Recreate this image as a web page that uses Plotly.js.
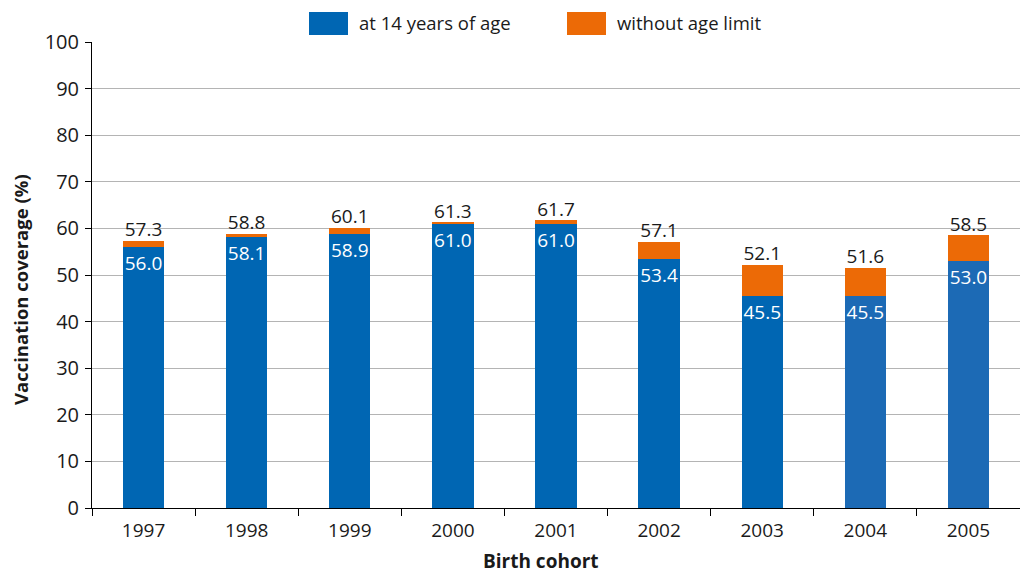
<!DOCTYPE html>
<html>
<head>
<meta charset="utf-8">
<script src="https://cdn.plot.ly/plotly-3.0.1.min.js"></script>
<style>html,body{margin:0;padding:0;background:#fff;}#chart{width:1020px;height:576px;}</style>
</head>
<body>
<div id="chart"></div>
<script>
const cohorts = ['1997','1998','1999','2000','2001','2002','2003','2004','2005'];
const at14 = [56.0, 58.1, 58.9, 61.0, 61.0, 53.4, 45.5, 45.5, 53.0];
const withoutLimit = [57.3, 58.8, 60.1, 61.3, 61.7, 57.1, 52.1, 51.6, 58.5];
const extra = withoutLimit.map((v, i) => +(v - at14[i]).toFixed(1));
const blueColors = ['#0066b3','#0066b3','#0066b3','#0066b3','#0066b3','#0066b3','#0066b3','#1c6ab5','#1c6ab5'];
const orange = '#ec6a06';
const font = 'Open Sans, Noto Sans, sans-serif';
const txt = '#1a1a1a';

const traces = [
  {
    type: 'bar', x: cohorts, y: at14, name: 'at 14 years of age',
    marker: {color: blueColors},
    text: at14.map(v => v.toFixed(1)), texttemplate: '%{text}',
    textposition: 'inside', insidetextanchor: 'end', textangle: 0,
    constraintext: 'none', insidetextfont: {color: '#ffffff', size: 19, family: font},
    hoverinfo: 'skip'
  },
  {
    type: 'bar', x: cohorts, y: extra, name: 'without age limit',
    marker: {color: orange}, hoverinfo: 'skip'
  },
  {
    type: 'scatter', mode: 'text', x: cohorts, y: withoutLimit,
    text: withoutLimit.map(v => v.toFixed(1)), textposition: 'top center',
    textfont: {color: txt, size: 19, family: font},
    showlegend: false, hoverinfo: 'skip', cliponaxis: false
  }
];

const P = 466; // plot height px
const W = 928; // plot width px
const layout = {
  width: 1020, height: 576,
  margin: {l: 92, r: 0, t: 42, b: 68},
  paper_bgcolor: '#ffffff', plot_bgcolor: '#ffffff',
  barmode: 'stack', bargap: 0.6,
  showlegend: false,
  font: {family: font, color: txt},
  xaxis: {
    type: 'category', tickson: 'boundaries', ticks: 'outside', ticklen: 7,
    tickcolor: '#000', showline: true, linecolor: '#000', linewidth: 1,
    tickfont: {size: 19, family: font, color: txt}, ticklabelstandoff: 5,
    showgrid: false, zeroline: false
  },
  yaxis: {
    range: [0, 100], dtick: 10, ticks: 'outside', ticklen: 6, tickcolor: '#000',
    showline: true, linecolor: '#000', linewidth: 1,
    gridcolor: '#b4b4b4', gridwidth: 1, zeroline: false,
    tickfont: {size: 20, family: font, color: txt}, ticklabelstandoff: 2
  },
  shapes: [
    {type: 'rect', xref: 'paper', yref: 'paper', x0: 217/W, x1: 256/W, y0: 1 + 7/P, y1: 1 + 30/P, fillcolor: blueColors[0], line: {width: 0}},
    {type: 'rect', xref: 'paper', yref: 'paper', x0: 475/W, x1: 514/W, y0: 1 + 7/P, y1: 1 + 30/P, fillcolor: orange, line: {width: 0}}
  ],
  annotations: [
    {xref: 'paper', yref: 'paper', x: 265/W, y: 1 + 19/P, xanchor: 'left', yanchor: 'middle', text: 'at 14 years of age', showarrow: false, font: {size: 18.5, family: font, color: txt}},
    {xref: 'paper', yref: 'paper', x: 523/W, y: 1 + 19/P, xanchor: 'left', yanchor: 'middle', text: 'without age limit', showarrow: false, font: {size: 18.5, family: font, color: txt}},
    {xref: 'paper', yref: 'paper', x: (541 - 92)/W, y: -(561 - 508)/P, xanchor: 'center', yanchor: 'middle', text: '<b>Birth cohort</b>', showarrow: false, font: {size: 19, family: font, color: txt}},
    {xref: 'paper', yref: 'paper', x: -(92 - 20)/W, y: (508 - 290)/P, xanchor: 'center', yanchor: 'middle', textangle: -90, text: '<b>Vaccination coverage (%)</b>', showarrow: false, font: {size: 18.5, family: font, color: txt}}
  ]
};

Plotly.newPlot('chart', traces, layout, {displayModeBar: false, staticPlot: true});
</script>
</body>
</html>
